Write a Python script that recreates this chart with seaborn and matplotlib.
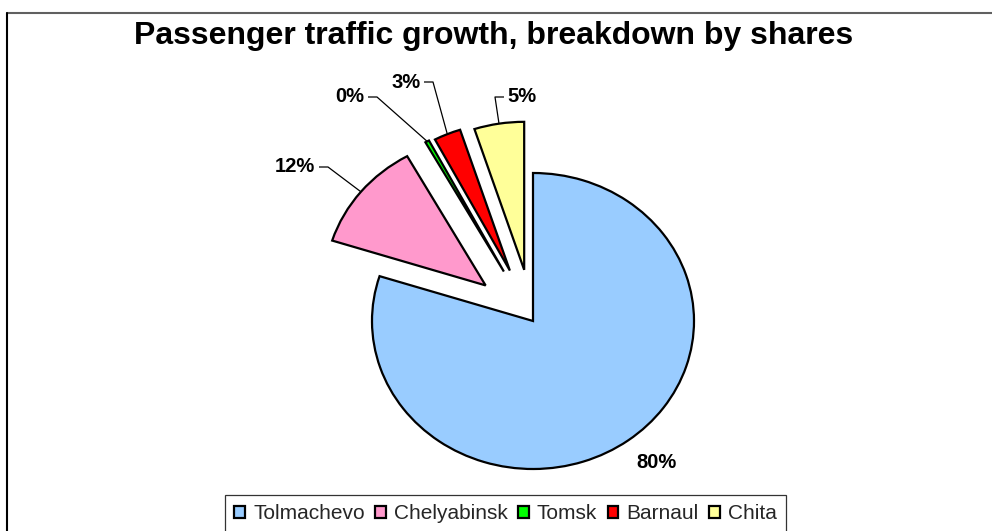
import matplotlib
matplotlib.use("Agg")
import matplotlib.pyplot as plt
from matplotlib.lines import Line2D
import numpy as np
import seaborn as sns

# ---- data ----
airports = ["Tolmachevo", "Chelyabinsk", "Tomsk", "Barnaul", "Chita"]
shares = [79.9, 12.0, 0.4, 2.7, 5.0]
colors = ["#99CCFF", "#FF99CC", "#00FF00", "#FF0000", "#FFFF99"]
title = "Passenger traffic growth, breakdown by shares"

# ---- style ----
sns.set_theme(style="white")
plt.rcParams["font.family"] = ["Liberation Sans", "DejaVu Sans"]

W, H = 992, 531
fig = plt.figure(figsize=(W / 100, H / 100), dpi=100)
ax = fig.add_axes([0, 0, 1, 1])

# pie centre / radii in pixels (slightly elliptical as in the reference)
CX, CY, RX, RY = 533, 321, 161, 148


def px(x, y):
    return ((x - CX) / RX, (CY - y) / RY)


explode = [0.0, 0.38, 0.38, 0.37, 0.35]
wedges, _ = ax.pie(
    shares,
    explode=explode,
    colors=colors,
    startangle=90,
    counterclock=False,
    wedgeprops=dict(edgecolor="black", linewidth=1.6, joinstyle="miter"),
)
ax.set_aspect("auto")
ax.set_xlim((0 - CX) / RX, (W - CX) / RX)
ax.set_ylim((CY - H) / RY, (CY - 0) / RY)
ax.axis("off")

# ---- percentage labels with leader lines ----
# (text centre px, side of leader: +1 right, -1 left, 0 none, text half width px)
label_layout = [
    ((657, 462), 0, 20),
    ((295, 167), 1, 21),
    ((350, 97), 1, 15),
    ((406, 82), 1, 15),
    ((522, 97), -1, 15),
]
for w, v, (pos, side, hw) in zip(wedges, shares, label_layout):
    txt = f"{int(np.floor(v + 0.5))}%"
    tx, ty = px(*pos)
    ax.text(tx, ty, txt, ha="center", va="center", fontsize=14.5,
            fontweight="bold", color="black")
    if side != 0:
        th = np.deg2rad((w.theta1 + w.theta2) / 2)
        cx, cy = w.center
        ax_, ay_ = cx + w.r * np.cos(th), cy + w.r * np.sin(th)
        start = px(pos[0] + side * (hw + 3), pos[1])
        elbow = px(pos[0] + side * (hw + 12), pos[1])
        ax.plot([start[0], elbow[0], ax_], [start[1], elbow[1], ay_],
                color="black", lw=0.9, solid_capstyle="butt")

# ---- title ----
fig.text(494 / W, 1 - 36 / H, title, ha="center", va="center",
         fontsize=23, fontweight="bold", color="black")

# ---- legend ----
leg = fig.legend(
    wedges, airports, ncol=5, loc="upper left",
    bbox_to_anchor=(225 / W, 1 - 495 / H),
    frameon=True, fancybox=False, edgecolor="black",
    handlelength=0.5, handleheight=0.5, handletextpad=0.4,
    columnspacing=0.5, fontsize=15, borderpad=0.45, borderaxespad=0,
)
leg.get_frame().set_linewidth(0.9)

# ---- outer chart-area frame (top and left visible) ----
fig.add_artist(Line2D([7 / W, 1], [1 - 13 / H, 1 - 13 / H], color="#606060", lw=1.5))
fig.add_artist(Line2D([7 / W, 7 / W], [0, 1 - 13 / H], color="black", lw=1.5))

fig.savefig("out.png", dpi=100)
